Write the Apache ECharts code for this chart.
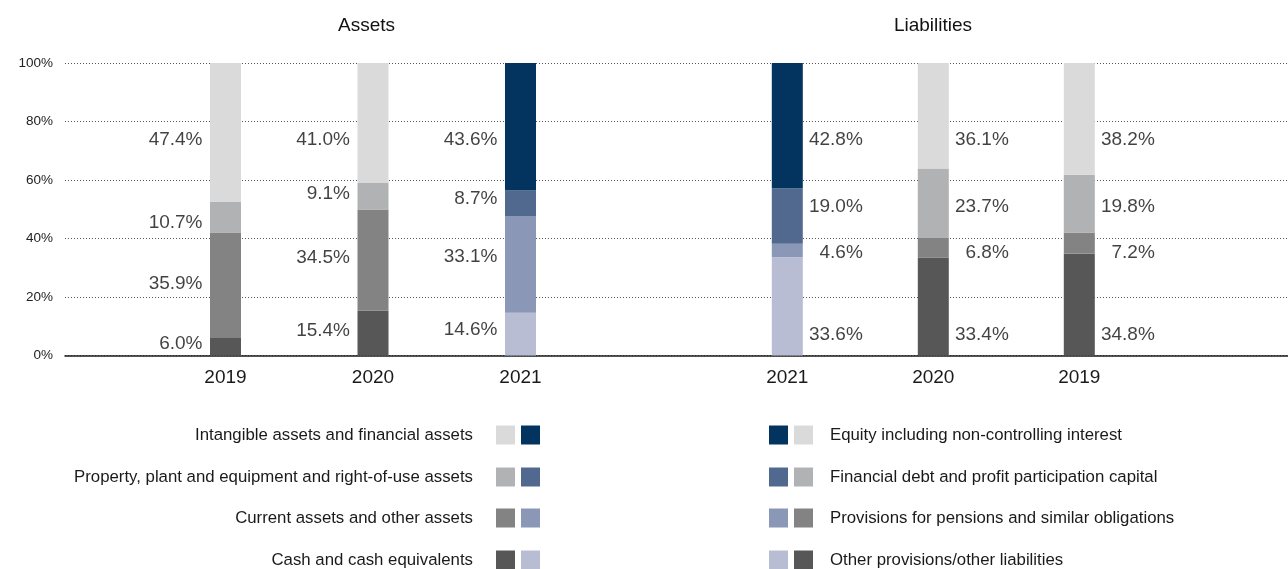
<!DOCTYPE html>
<html>
<head>
<meta charset="utf-8">
<script src="https://cdn.jsdelivr.net/npm/echarts@6/dist/echarts.min.js"></script>
<style>
  html, body { margin: 0; padding: 0; background: #fff; }
  #chart { width: 1288px; height: 569px; }
</style>
</head>
<body>
<div id="chart"></div>
<script>
// categories
const assetYears = ['2019', '2020', '2021']
const liabYears = ['2021', '2020', '2019']
const currentYear = '2021'

// assets, bottom to top of each bar
const assetNames = [
  'Cash and cash equivalents',
  'Current assets and other assets',
  'Property, plant and equipment and right-of-use assets',
  'Intangible assets and financial assets'
]
const cash = [6.0, 15.4, 14.6]
const currentAssets = [35.9, 34.5, 33.1]
const ppe = [10.7, 9.1, 8.7]
const intangible = [47.4, 41.0, 43.6]

// liabilities, bottom to top of each bar
const liabNames = [
  'Other provisions/other liabilities',
  'Provisions for pensions and similar obligations',
  'Financial debt and profit participation capital',
  'Equity including non-controlling interest'
]
const otherProvisions = [33.6, 33.4, 34.8]
const pensions = [4.6, 6.8, 7.2]
const financialDebt = [19.0, 23.7, 19.8]
const equity = [42.8, 36.1, 38.2]

// where the value labels sit (in % of the axis), as laid out in the report
const assetLabelLevels = [[3.9, 24.4, 45.4, 73.6], [8.4, 33.3, 55.2, 73.6], [8.7, 33.6, 53.5, 73.6]]
const liabLabelLevels = [7.0, 35.0, 50.8, 73.6]

const grays = ['#575757', '#838383', '#b1b2b4', '#dadada']
const blues = ['#b8bdd4', '#8a97b7', '#52698f', '#03345f']
const font = 'Liberation Sans, Arial, sans-serif'

const chart = echarts.init(document.getElementById('chart'))

function barSeries(name, values, years, level, axis, stack) {
  return {
    name,
    type: 'bar',
    stack,
    xAxisIndex: axis,
    yAxisIndex: axis,
    barWidth: 31,
    silent: true,
    data: values.map((v, i) => ({
      value: v,
      itemStyle: { color: years[i] === currentYear ? blues[level] : grays[level] }
    }))
  }
}

function labelSeries(groups, levelOf, axis, side) {
  const data = []
  groups.forEach((values, level) => {
    values.forEach((v, i) => {
      data.push({ value: [i, levelOf(i, level)], text: v.toFixed(1) + '%' })
    })
  })
  return {
    type: 'scatter',
    xAxisIndex: axis,
    yAxisIndex: axis,
    symbolSize: 1,
    itemStyle: { color: 'rgba(0,0,0,0)' },
    silent: true,
    z: 5,
    label: {
      show: true,
      position: side,
      distance: side === 'left' ? 22.5 : 75,
      align: 'right',
      fontSize: 19,
      color: '#111',
      fontFamily: font,
      formatter: (p) => p.data.text
    },
    data
  }
}

const assetGroups = [cash, currentAssets, ppe, intangible]
const liabGroups = [otherProvisions, pensions, financialDebt, equity]

const series = []
assetGroups.forEach((vals, lvl) => series.push(barSeries(assetNames[lvl], vals, assetYears, lvl, 1, 'assets')))
liabGroups.forEach((vals, lvl) => series.push(barSeries(liabNames[lvl], vals, liabYears, lvl, 2, 'liab')))
series.push(labelSeries(assetGroups, (i, lvl) => assetLabelLevels[i][lvl], 1, 'left'))
series.push(labelSeries(liabGroups, (i, lvl) => liabLabelLevels[lvl], 2, 'right'))

// legend drawn as two columns of swatches
const legendRowsY = [435, 477, 518, 560]
const sw = 19
const graphic = [
  { type: 'text', x: 366.5, y: 26, style: { text: 'Assets', font: '19px ' + font, fill: '#111', align: 'center', verticalAlign: 'middle' } },
  { type: 'text', x: 933, y: 26, style: { text: 'Liabilities', font: '19px ' + font, fill: '#111', align: 'center', verticalAlign: 'middle' } }
]
legendRowsY.forEach((cy, row) => {
  const lvl = 3 - row
  graphic.push(
    { type: 'text', x: 473, y: cy, style: { text: assetNames[lvl], font: '16.8px ' + font, fill: '#1a1a1a', align: 'right', verticalAlign: 'middle' } },
    { type: 'rect', shape: { x: 496, y: cy - sw / 2, width: sw, height: sw }, style: { fill: grays[lvl] } },
    { type: 'rect', shape: { x: 521, y: cy - sw / 2, width: sw, height: sw }, style: { fill: blues[lvl] } },
    { type: 'rect', shape: { x: 769, y: cy - sw / 2, width: sw, height: sw }, style: { fill: blues[lvl] } },
    { type: 'rect', shape: { x: 794, y: cy - sw / 2, width: sw, height: sw }, style: { fill: grays[lvl] } },
    { type: 'text', x: 830, y: cy, style: { text: liabNames[lvl], font: '16.8px ' + font, fill: '#1a1a1a', align: 'left', verticalAlign: 'middle' } }
  )
})

const hiddenY = (idx) => ({ type: 'value', gridIndex: idx, min: 0, max: 100, show: false })
const yearAxis = (idx, data) => ({
  type: 'category',
  gridIndex: idx,
  data,
  axisLine: { show: false },
  axisTick: { show: false },
  splitLine: { show: false },
  axisLabel: { fontSize: 19, color: '#1a1a1a', margin: 13, fontFamily: font }
})

const option = {
  animation: false,
  textStyle: { fontFamily: font },
  grid: [
    { left: 65, right: 0, top: 63, bottom: 213.5 },
    { left: 151.75, width: 442.5, top: 63, bottom: 213.5 },
    { left: 714.3, width: 438, top: 63, bottom: 213.5 }
  ],
  xAxis: [
    {
      type: 'value',
      gridIndex: 0,
      min: 0,
      max: 1,
      axisLine: { show: true, lineStyle: { color: '#1a1a1a', width: 1.5 } },
      axisTick: { show: false },
      axisLabel: { show: false },
      splitLine: { show: false }
    },
    yearAxis(1, assetYears),
    yearAxis(2, liabYears)
  ],
  yAxis: [
    {
      type: 'value',
      gridIndex: 0,
      min: 0,
      max: 100,
      interval: 20,
      axisLine: { show: false },
      axisTick: { show: false },
      axisLabel: { formatter: '{value}%', fontSize: 13.5, color: '#222', margin: 12, padding: [0, 0, 5, 0] },
      splitLine: { lineStyle: { type: [1, 2], color: '#555', width: 1 } }
    },
    hiddenY(1),
    hiddenY(2)
  ],
  graphic,
  series
}

chart.setOption(option)
</script>
</body>
</html>
